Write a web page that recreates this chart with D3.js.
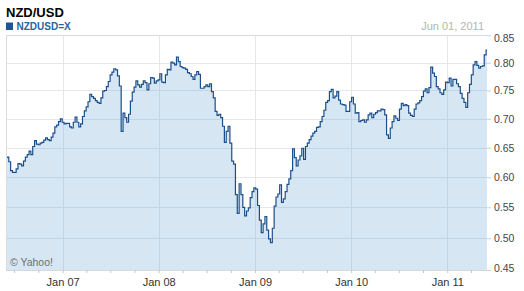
<!DOCTYPE html>
<html>
<head>
<meta charset="utf-8">
<script src="https://cdn.jsdelivr.net/npm/d3@7"></script>
<style>
  html, body { margin: 0; padding: 0; background: #fff; }
  svg { display: block; font-family: "Liberation Sans", Arial, sans-serif; }
</style>
</head>
<body>
<svg id="chart" width="524" height="291"></svg>
<script>
// ---- data (weekly NZD/USD closes) ----
const title = "NZD/USD";
const seriesName = "NZDUSD=X";
const dateLabel = "Jun 01, 2011";
const credit = "\u00A9 Yahoo!";
const firstWeek = "2006-05-31";
const lastWeek = "2011-06-01";

const rates2006 = [0.633, 0.634, 0.626, 0.611, 0.608, 0.608, 0.614, 0.623, 0.622, 0.619,
  0.627, 0.634, 0.638, 0.644, 0.638, 0.652, 0.662, 0.656, 0.655, 0.658,
  0.659, 0.663, 0.667, 0.664, 0.662, 0.668, 0.675, 0.686, 0.689, 0.695, 0.700];
const rates2007 = [0.694, 0.691, 0.692, 0.692, 0.686, 0.684, 0.694, 0.703, 0.694, 0.686,
  0.691, 0.704, 0.714, 0.721, 0.730, 0.743, 0.739, 0.736, 0.732, 0.729,
  0.727, 0.737, 0.749, 0.750, 0.757, 0.766, 0.778, 0.783, 0.789, 0.787,
  0.776, 0.758, 0.678, 0.710, 0.702, 0.694, 0.708, 0.731, 0.747, 0.756,
  0.767, 0.760, 0.756, 0.761, 0.767, 0.764, 0.751, 0.762, 0.773, 0.772, 0.763, 0.767];
const rates2008 = [0.769, 0.780, 0.765, 0.764, 0.778, 0.788, 0.787, 0.801, 0.799, 0.796,
  0.810, 0.802, 0.793, 0.791, 0.790, 0.788, 0.782, 0.780, 0.775, 0.770,
  0.778, 0.784, 0.779, 0.754, 0.754, 0.757, 0.760, 0.757, 0.762, 0.748,
  0.737, 0.713, 0.706, 0.708, 0.702, 0.687, 0.659, 0.678, 0.687, 0.658,
  0.627, 0.622, 0.571, 0.540, 0.589, 0.571, 0.550, 0.536, 0.544, 0.549, 0.566, 0.576];
const rates2009 = [0.582, 0.580, 0.553, 0.529, 0.509, 0.523, 0.535, 0.513, 0.499, 0.493,
  0.516, 0.552, 0.567, 0.572, 0.587, 0.558, 0.564, 0.576, 0.588, 0.597,
  0.611, 0.648, 0.633, 0.619, 0.629, 0.636, 0.649, 0.630, 0.652, 0.658,
  0.664, 0.670, 0.675, 0.678, 0.685, 0.686, 0.695, 0.704, 0.715, 0.729,
  0.732, 0.748, 0.752, 0.737, 0.740, 0.748, 0.733, 0.726, 0.725, 0.724, 0.713, 0.713];
const rates2010 = [0.730, 0.738, 0.726, 0.710, 0.711, 0.695, 0.697, 0.698, 0.694, 0.698,
  0.707, 0.710, 0.702, 0.708, 0.711, 0.714, 0.714, 0.717, 0.716, 0.707,
  0.672, 0.666, 0.684, 0.695, 0.705, 0.701, 0.697, 0.717, 0.727, 0.723,
  0.725, 0.723, 0.710, 0.706, 0.704, 0.717, 0.726, 0.728, 0.732, 0.739,
  0.749, 0.753, 0.746, 0.755, 0.792, 0.781, 0.775, 0.757, 0.753, 0.746, 0.743, 0.751];
const rates2011 = [0.765, 0.764, 0.772, 0.758, 0.770, 0.770, 0.762, 0.757, 0.745, 0.736,
  0.729, 0.720, 0.746, 0.761, 0.778, 0.796, 0.802, 0.795, 0.790, 0.793,
  0.794, 0.814, 0.823];

const yTicks = [0.45, 0.50, 0.55, 0.60, 0.65, 0.70, 0.75, 0.80, 0.85];

// ---- build ----
(function () {
const parse = d3.timeParse("%Y-%m-%d");
const start = parse(firstWeek), end = parse(lastWeek);
const weeks = d3.timeWednesday.range(start, d3.timeDay.offset(end, 1));
const rates = [].concat(rates2006, rates2007, rates2008, rates2009, rates2010, rates2011);
const data = weeks.map((d, i) => ({ date: d, value: rates[i] })).filter(d => d.value != null);

const svg = d3.select("#chart");
const pLeft = 6, pRight = 487, pTop = 35.3, pBottom = 270;

const x = d3.scaleTime().domain([start, end]).range([pLeft, pRight]);
const y = d3.scalePow().exponent(0.73).domain([0.45, 0.85]).range([pBottom, pTop]);

// gridlines
const years = d3.timeYear.range(d3.timeYear.ceil(start), end);
svg.append("g").selectAll("line").data(yTicks.slice(1, -1)).join("line")
  .attr("x1", pLeft).attr("x2", pRight)
  .attr("y1", d => Math.round(y(d)) + 0.5).attr("y2", d => Math.round(y(d)) + 0.5)
  .attr("stroke", "#e4e8ec").attr("stroke-width", 1);
svg.append("g").selectAll("line").data(years).join("line")
  .attr("x1", d => Math.round(x(d)) + 0.5).attr("x2", d => Math.round(x(d)) + 0.5)
  .attr("y1", pTop).attr("y2", pBottom)
  .attr("stroke", "#e4e8ec").attr("stroke-width", 1);

// area + line
const area = d3.area().curve(d3.curveStep).x(d => x(d.date)).y0(pBottom).y1(d => y(d.value));
svg.append("path").datum(data).attr("d", area)
  .attr("fill", "#5d9bd0").attr("fill-opacity", 0.25);
const line = d3.line().curve(d3.curveStep).x(d => x(d.date)).y(d => y(d.value));
svg.append("path").datum(data).attr("d", line)
  .attr("fill", "none").attr("stroke", "#1b4f8c").attr("stroke-width", 1.2)
  .attr("stroke-linejoin", "miter");

// frame (top + left)
svg.append("line").attr("x1", pLeft).attr("x2", pRight).attr("y1", 35.5).attr("y2", 35.5)
  .attr("stroke", "#dcdcdc");
svg.append("line").attr("x1", pLeft + 0.5).attr("x2", pLeft + 0.5).attr("y1", 35).attr("y2", pBottom)
  .attr("stroke", "#dcdcdc");

// bottom axis
const quarters = d3.timeMonth.every(3).range(start, end);
const fmt = d3.timeFormat("%b %y");
const xAxis = d3.axisBottom(x).tickValues(quarters)
  .tickFormat(d => d.getMonth() === 0 ? fmt(d) : "")
  .tickSize(3).tickPadding(5);
const gx = svg.append("g").attr("transform", `translate(0,${pBottom})`).call(xAxis);
gx.select(".domain").attr("stroke", "#d8d8d8").attr("d", `M${pLeft},0.5H${pRight}`);
gx.selectAll(".tick line").attr("stroke", "#c8c8c8");
gx.selectAll(".tick text").attr("fill", "#333").attr("font-size", 11)
  .attr("font-family", "Liberation Sans, Arial, sans-serif");

// right axis
const yAxis = d3.axisRight(y).tickValues(yTicks).tickFormat(d3.format(".2f"))
  .tickSize(4).tickPadding(3);
const gy = svg.append("g").attr("transform", `translate(${pRight},0)`).call(yAxis);
gy.select(".domain").remove();
gy.selectAll(".tick line").attr("stroke", "#cfcfcf");
gy.selectAll(".tick text").attr("fill", "#444").attr("font-size", 10.5)
  .attr("font-family", "Liberation Sans, Arial, sans-serif")
  .attr("dy", d => d === 0.85 ? "0.62em" : d === 0.45 ? "0.1em" : "0.32em");

// header
svg.append("text").attr("x", 6).attr("y", 16.5).text(title)
  .attr("font-size", 13).attr("font-weight", "bold").attr("fill", "#000");
svg.append("rect").attr("x", 6).attr("y", 22.5).attr("width", 7).attr("height", 7.5)
  .attr("fill", "#1f5692");
svg.append("text").attr("x", 16.5).attr("y", 29.5).text(seriesName)
  .attr("font-size", 10).attr("font-weight", "bold").attr("fill", "#2a64a0");
svg.append("text").attr("x", 484).attr("y", 29.5).attr("text-anchor", "end").text(dateLabel)
  .attr("font-size", 11).attr("fill", "#b4b4b4");

// credit
svg.append("text").attr("x", 10).attr("y", 265.5).text(credit)
  .attr("font-size", 10.5).attr("fill", "#707070");
})();
</script>
</body>
</html>
